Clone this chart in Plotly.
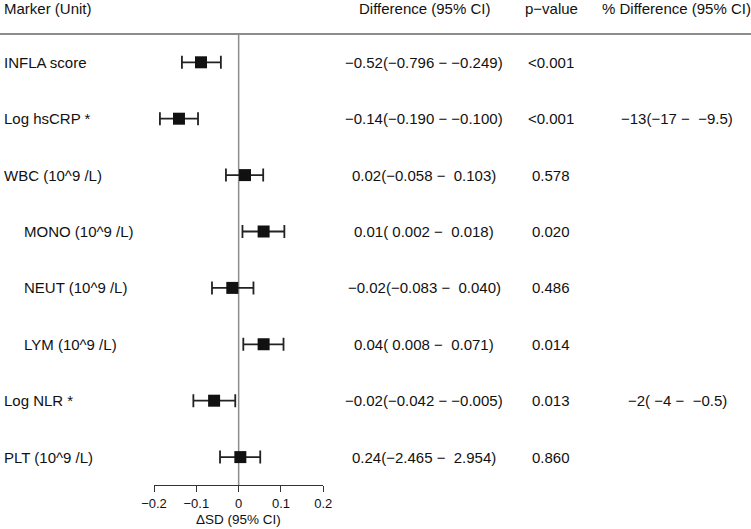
import plotly.graph_objects as go

# values
markers = ["INFLA score", "Log hsCRP *", "WBC (10^9 /L)", "MONO (10^9 /L)",
           "NEUT (10^9 /L)", "LYM (10^9 /L)", "Log NLR *", "PLT (10^9 /L)"]
indent = [False, False, False, True, True, True, False, False]
sd_est = [-0.089, -0.141, 0.015, 0.059, -0.015, 0.059, -0.058, 0.004]
sd_lo = [-0.134, -0.186, -0.030, 0.009, -0.063, 0.011, -0.107, -0.044]
sd_hi = [-0.042, -0.096, 0.058, 0.108, 0.035, 0.106, -0.008, 0.051]

diff_txt = ["−0.52(−0.796 − −0.249)", "−0.14(−0.190 − −0.100)", "0.02(−0.058 −  0.103)",
            "0.01( 0.002 −  0.018)", "−0.02(−0.083 −  0.040)", "0.04( 0.008 −  0.071)",
            "−0.02(−0.042 − −0.005)", "0.24(−2.465 −  2.954)"]
p_txt = ["<0.001", "<0.001", "0.578", "0.020", "0.486", "0.014", "0.013", "0.860"]
pct_txt = ["", "−13(−17 −  −9.5)", "", "", "", "", "−2( −4 −  −0.5)", ""]

headers = ["Marker (Unit)", "Difference (95% CI)", "p−value", "% Difference (95% CI)"]
x_ticks = [-0.2, -0.1, 0, 0.1, 0.2]

W, H = 751, 529
FONT = "Liberation Sans, Arial, Helvetica, sans-serif"


def px(x):
    return x / W


def py(y):
    return 1 - y / H


rows = list(range(len(markers)))

fig = go.Figure()

fig.add_trace(go.Scatter(
    x=sd_est, y=rows,
    mode="markers",
    marker=dict(symbol="square", size=12, color="#111111"),
    error_x=dict(type="data", symmetric=False,
                 array=[h - e for h, e in zip(sd_hi, sd_est)],
                 arrayminus=[e - l for e, l in zip(sd_est, sd_lo)],
                 color="#222222", thickness=1.8, width=6.5),
    hoverinfo="skip",
))

# zero reference line and header rule
fig.add_shape(type="line", xref="x", yref="paper", x0=0, x1=0,
              y0=py(485), y1=py(34), line=dict(color="#8c8c8c", width=1.5), layer="below")
fig.add_shape(type="line", xref="paper", yref="paper", x0=0, x1=1,
              y0=py(34), y1=py(34), line=dict(color="#8c8c8c", width=2))

# header
col_x = [2, 424, 551, 676]
for i, h in enumerate(headers):
    fig.add_annotation(xref="paper", yref="paper", x=px(col_x[i]), y=py(8),
                       text=h, showarrow=False,
                       xanchor="left" if i == 0 else "center", yanchor="middle",
                       font=dict(size=15, color="#111111", family=FONT))

# table rows
for i in rows:
    fig.add_annotation(xref="paper", yref="y", x=px(22 if indent[i] else 2), y=i,
                       text=markers[i], showarrow=False, xanchor="left", yanchor="middle",
                       font=dict(size=15, color="#111111", family=FONT))
    for txt, cx in [(diff_txt[i], 424), (p_txt[i], 551), (pct_txt[i], 677)]:
        if txt:
            fig.add_annotation(xref="paper", yref="y", x=px(cx), y=i,
                               text=txt.replace("  ", "\u00a0\u00a0").replace("( ", "(\u00a0"),
                               showarrow=False, xanchor="center", yanchor="middle",
                               font=dict(size=15, color="#111111", family=FONT))

fig.add_annotation(xref="paper", yref="paper", x=px(238.5), y=py(519),
                   text="ΔSD (95% CI)", showarrow=False, xanchor="center", yanchor="middle",
                   font=dict(size=13.5, color="#111111", family=FONT))

# row i sits at pixel 62.3 + 56.4*i; plot area runs from 0 to 485 px
step = 56.4
fig.update_yaxes(domain=[py(485), 1], range=[(485 - 62.3) / step, -62.3 / step],
                 visible=False, automargin=False)
fig.update_xaxes(domain=[px(154), px(323.3)], range=[-0.2, 0.2],
                 tickvals=x_ticks, ticktext=["−0.2", "−0.1", "0", "0.1", "0.2"],
                 ticks="outside", ticklen=6, tickwidth=1, tickcolor="#333333",
                 showline=True, linecolor="#333333", linewidth=1,
                 showgrid=False, zeroline=False, automargin=False,
                 tickfont=dict(size=13, color="#111111", family=FONT))

fig.update_layout(width=W, height=H, margin=dict(l=0, r=0, t=0, b=0),
                  paper_bgcolor="white", plot_bgcolor="white", showlegend=False)

# drop the default page margin so the figure fills the window
fig.write_html("out.html", config={"displayModeBar": False},
               post_script="document.body.style.margin='0';")
